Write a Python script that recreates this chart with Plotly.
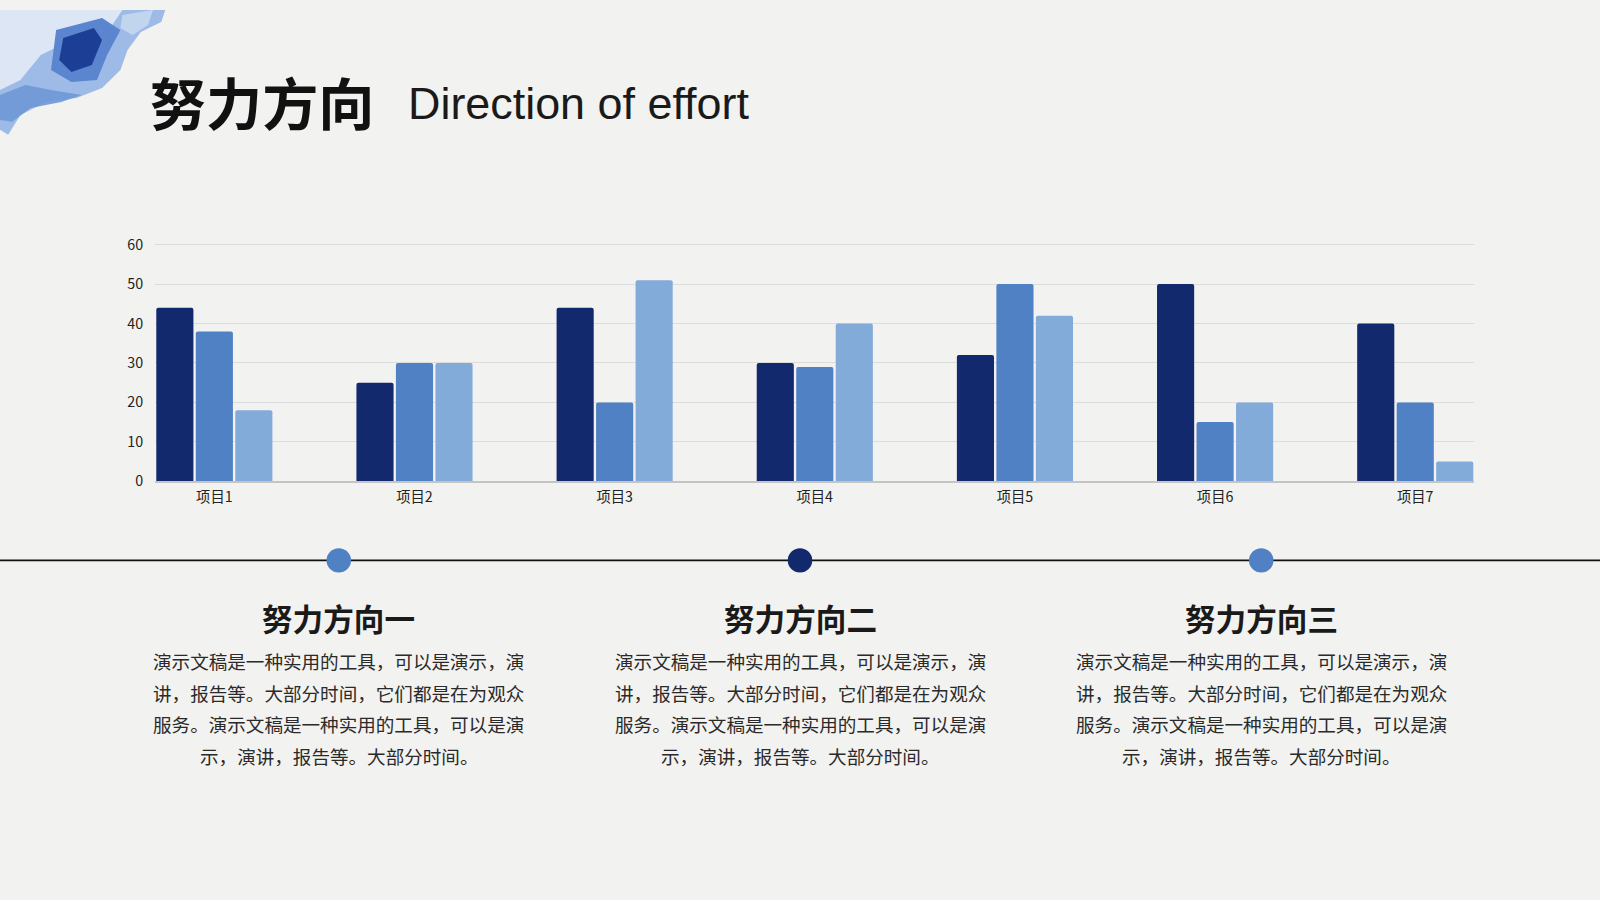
import plotly.graph_objects as go

categories = ["项目1", "项目2", "项目3", "项目4", "项目5", "项目6", "项目7"]
series1 = [44, 25, 44, 30, 32, 50, 40]
series2 = [38, 30, 20, 29, 50, 15, 20]
series3 = [18, 30, 51, 40, 42, 20, 5]
y_ticks = [0, 10, 20, 30, 40, 50, 60]

title_cn = "努力方向"
title_en = "Direction of effort"
section_titles = ["努力方向一", "努力方向二", "努力方向三"]
body_lines = [
    "演示文稿是一种实用的工具，可以是演示，演",
    "讲，报告等。大部分时间，它们都是在为观众",
    "服务。演示文稿是一种实用的工具，可以是演",
    "示，演讲，报告等。大部分时间。",
]

W, H = 1600, 900
RW, RH = 1568.0, 882.0
S = W / RW

def px(x):
    return x / RW

def py(y):
    return 1 - y / RH

def cy(y):
    # small vertical calibration
    return py((y - 7.8) / 0.984)

BG = "#f2f2f0"
C1, C2, C3 = "#13296e", "#4f81c4", "#83abda"
CJK = "Noto Sans CJK SC"

fig = go.Figure()
for vals, col, name in [(series1, C1, "系列1"), (series2, C2, "系列2"), (series3, C3, "系列3")]:
    fig.add_trace(go.Bar(x=categories, y=vals, name=name, marker=dict(color=col, cornerradius=2, line=dict(width=0))))

ymax = 60.4
base_px, top60_px = 472.0, 239.0
top_px = base_px - (base_px - top60_px) * ymax / 60.0

fig.update_layout(
    width=W, height=H,
    paper_bgcolor=BG, plot_bgcolor=BG,
    margin=dict(l=0, r=0, t=0, b=0),
    showlegend=False,
    barmode="group", bargap=0.408, bargroupgap=0.06,
    xaxis=dict(domain=[px(152), px(1445)], range=[-0.296, 6.296], showgrid=False,
               showline=True, linecolor="#c4c4c4", linewidth=1.5, ticks="", zeroline=False,
               tickfont=dict(family=CJK, size=14 * S, color="#222222"), ticklabelstandoff=2),
    yaxis=dict(domain=[cy(base_px), cy(top_px)], range=[0, ymax], tickvals=y_ticks, showgrid=True,
               gridcolor="#dcdcdc", gridwidth=1, zeroline=False, showline=False, ticks="",
               tickfont=dict(family=CJK, size=14 * S, color="#222222"), ticklabelstandoff=11),
)

shapes = []
def path(pts):
    return "M " + " L ".join(f"{px(a)},{py(b)}" for a, b in pts) + " Z"

deco = [
    ([(0, 0), (162, 0), (158, 12), (138, 22), (125, 40), (118, 60), (100, 78), (75, 88), (45, 92), (20, 105), (8, 125), (0, 120)], "#9dbbe6", 1.0),
    ([(0, 0), (120, 0), (110, 15), (70, 30), (40, 45), (20, 70), (0, 80)], "#dfe8f5", 0.95),
    ([(55, 20), (100, 8), (118, 20), (105, 45), (95, 70), (70, 72), (50, 60)], "#5b86cf", 1.0),
    ([(62, 28), (92, 18), (100, 30), (90, 55), (70, 62), (58, 50)], "#1c3f95", 1.0),
    ([(0, 85), (25, 75), (50, 80), (80, 85), (60, 92), (30, 98), (12, 112), (0, 110)], "#6f98d6", 0.9),
    ([(120, 5), (150, 0), (145, 15), (130, 25), (118, 18)], "#c7d8ef", 0.9),
]
for pts, col, op in deco:
    shapes.append(dict(type="path", xref="paper", yref="paper", path=path(pts), fillcolor=col,
                       opacity=op, line=dict(width=0), layer="above"))

line_px = 550
shapes.append(dict(type="line", xref="paper", yref="paper", x0=0, x1=1, y0=cy(line_px), y1=cy(line_px),
                   line=dict(color="#111111", width=1.6)))
centers = [332, 784, 1236]
dot_cols = [C2, C1, C2]
r = 12
for cx, col in zip(centers, dot_cols):
    shapes.append(dict(type="circle", xref="paper", yref="paper", x0=px(cx - r), x1=px(cx + r),
                       y0=cy(line_px + r), y1=cy(line_px - r), fillcolor=col, line=dict(width=0)))
fig.update_layout(shapes=shapes)

ann = []
ann.append(dict(text=f"<b>{title_cn}</b>", x=px(145), y=py(91), xref="paper", yref="paper",
                xanchor="left", yanchor="middle", showarrow=False,
                font=dict(family=CJK, size=55 * S, color="#111111")))
ann.append(dict(text=title_en, x=px(398), y=py(94), xref="paper", yref="paper",
                xanchor="left", yanchor="middle", showarrow=False,
                font=dict(family="Liberation Sans", size=44 * S, color="#1a1a1a")))
line_y = [649, 680, 711, 742]
for cx, t in zip(centers, section_titles):
    ann.append(dict(text=f"<b>{t}</b>", x=px(cx), y=cy(606), xref="paper", yref="paper",
                    xanchor="center", yanchor="middle", showarrow=False,
                    font=dict(family=CJK, size=30 * S, color="#1a1a1a")))
    for ly, ln in zip(line_y, body_lines):
        ann.append(dict(text=ln, x=px(cx), y=cy(ly), xref="paper", yref="paper",
                        xanchor="center", yanchor="middle", showarrow=False,
                        font=dict(family=CJK, size=18.2 * S, color="#2a2a2a")))
fig.update_layout(annotations=ann)

fig.write_html("out.html", config={"displayModeBar": False},
               post_script="document.body.style.margin='0';document.body.style.overflow='hidden';")
